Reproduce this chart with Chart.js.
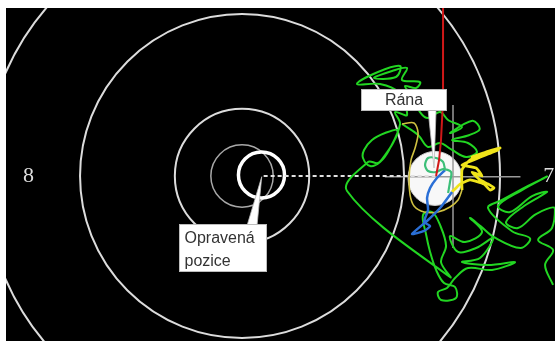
<!DOCTYPE html>
<html lang="cs">
<head>
<meta charset="UTF-8">
<title>Stopa míření</title>
<script src="https://cdn.jsdelivr.net/npm/chart.js"></script>
<style>
  body { margin: 0; background: #fff; }
  #wrap { width: 555px; height: 341px; }
</style>
</head>
<body>
<div id="wrap"><canvas id="trace" width="555" height="341"></canvas></div>
<script>
// target geometry in mm, origin = target centre
const ringRadii = [21.5, 13.5, 5.6];
const innerTenRadius = 2.6;
const ringLabels = [
  { text: '8', x: -18.25, y: 0 },
  { text: '7', x: 25.1, y: 0 }
];
const shot = { x: 16.08, y: -0.2, r: 2.25 };
const corrected = { x: 1.62, y: 0.08, r: 1.92 };

// aiming trace, split by colour
const greenX = [25.92, 25.25, 25.92, 24.67, 25.83, 26.08, 24.5, 23.0, 22.0, 23.5, 25.42, 24.17, 22.33, 21.33, 23.33, 25.4, 24.9, 23.83, 21.67, 20.5,
  22.5, 24.0, 23.2, 21.0, 19.9,
  19.0, 20.0, 18.58, 17.33, 18.0, 19.5, 20.92, 19.83, 18.33, 20.5, 22.75, 20.83, 18.83, 17.75, 17.08, 16.33, 16.58, 17.83, 17.75, 16.83, 16.17, 15.67, 15.33, 15.08, 15.83, 16.5, 17.0, 16.58, 17.33,
  8.75, 10.5, 11.33, 11.92, 12.58, 13.0, 11.92, 10.83, 10.17, 10.08, 10.67, 11.5, 12.25, 13.17, 12.75, 13.75,
  13.0, 11.5, 9.58, 11.33, 13.17, 12.83, 11.0, 12.5, 13.75, 13.33, 14.83, 14.5, 13.58, 14.17, 14.83, 15.5, 16.5, 17.17, 18.33, 17.33,
  19.2, 19.8, 18.9, 17.5, 18.83, 19.58, 18.67, 17.5, 16.5, 15.5, 14.67, 13.33];
const greenY = [-9.08, -7.42, -6.17, -5.33, -4.33, -2.67, -3.17, -4.33, -3.83, -2.5, -1.33, -1.67, -3.0, -2.5, -1.17, -0.05, -0.3, -0.83, -2.0, -2.67,
  -4.6, -5.2, -6.0, -5.1, -4.2,
  -3.5, -4.67, -5.5, -5.0, -6.33, -6.0, -5.17, -6.83, -7.17, -7.42, -7.17, -7.83, -7.67, -8.5, -9.33, -9.67, -10.33, -10.17, -9.25, -8.92, -7.83, -6.33, -4.83, -3.25, -3.0, -4.08, -5.83, -7.17, -8.42,
  -1.25, 1.17, 1.08, 1.75, 2.75, 3.83, 3.58, 3.0, 2.17, 1.5, 0.83, 1.17, 2.17, 4.33, 5.33, 5.08,
  7.0, 7.67, 7.67, 8.67, 9.17, 8.25, 8.17, 8.75, 9.0, 8.0, 7.83, 7.33, 7.5, 6.67, 5.33, 4.83, 5.33, 4.67, 4.08, 3.58,
  4.6, 3.9, 3.4, 3.0, 2.75, 2.0, 1.58, 2.17, 2.75, 2.42, 3.42, 4.33];

// last second before the shot: pale arc, then bright zigzag
const yellowDimX = [13.33, 14.33, 14.67, 14.42, 14.08, 13.92, 14.0, 14.33, 15.17, 16.33, 17.33, 18.0, 18.33];
const yellowDimY = [4.33, 4.42, 3.58, 2.33, 1.33, -0.17, -1.58, -2.5, -3.0, -3.0, -2.58, -2.0, -1.17];
const yellowX = [18.33, 18.33, 19.0, 21.5, 20.33, 19.17, 21.33, 19.67,
  18.33, 19.5, 20.0, 19.17, 19.83, 20.5, 21.0, 20.67, 20.17, 19.0, 18.17, 17.5];
const yellowY = [-1.17, 0.5, 1.33, 2.33, 2.0, 1.58, 2.17, 1.5,
  0.92, 0.67, 0, 0.33, -0.33, -0.67, -1.0, -1.17, -0.67, -0.33, -0.67, -1.33];

const blueX = [17.5, 16.5, 15.5, 14.17, 15.17, 15.67, 15.17, 15.5, 15.42, 15.67, 16.17, 16.92];
const blueY = [-1.33, -2.67, -3.67, -4.83, -4.58, -4.17, -3.83, -2.83, -1.83, -1.0, -0.25, 0.5];

const tealX = [16.92, 16.75, 16.17, 15.5, 15.25, 15.5, 16.17, 16.75, 17.42, 17.33, 17.17];
const tealY = [0.5, 1.17, 1.5, 1.5, 0.92, 0.42, 0.33, 0.58, 0.33, -0.5, -1.42];

// after-shot movement
const redX = [16.17, 16.42, 16.58, 16.75, 16.75];
const redY = [0, 1.33, 3.0, 6.33, 14.67];

// aiming mark and shift line
const crossX = { from: 11.9, to: 23.2, y: -0.06 };
const crossY = { x: 17.58, from: 5.92, to: -6.0 };
const shiftLine = { from: 1.8, to: 16.1, y: 0 };

const callouts = [
  { lines: ['Rána'], box: [9.92, 7.25, 17.0, 5.5], base: [15.5, 16.17], tip: [16.0, 0.67], align: 'center' },
  { lines: ['Opravená', 'pozice'], box: [-5.25, -4.0, 2.0, -7.92], base: [0.42, 1.25], tip: [1.64, -0.06], align: 'left' }
];

function pts(xs, ys) {
  return xs.map((x, i) => ({ x: x, y: ys[i] }));
}

function line(data, color, width, extra) {
  return Object.assign({
    data: data, showLine: true, pointRadius: 0, borderColor: color,
    borderWidth: width, fill: false, tension: 0
  }, extra || {});
}

// black face, rings, holes
const targetPlugin = {
  id: 'target',
  beforeDatasetsDraw(chart) {
    const { ctx, chartArea: a, scales: { x, y } } = chart;
    const px = v => x.getPixelForValue(v);
    const py = v => y.getPixelForValue(v);
    const r = v => px(v) - px(0);
    ctx.save();
    ctx.fillStyle = '#000';
    ctx.fillRect(a.left, a.top, a.right - a.left, a.bottom - a.top);
    ctx.beginPath();
    ctx.rect(a.left, a.top, a.right - a.left, a.bottom - a.top);
    ctx.clip();

    ctx.strokeStyle = '#dcdcdc';
    ctx.lineWidth = 2;
    ringRadii.forEach(rr => {
      ctx.beginPath();
      ctx.arc(px(0), py(0), r(rr), 0, Math.PI * 2);
      ctx.stroke();
    });
    ctx.strokeStyle = '#a8a8a8';
    ctx.lineWidth = 1.5;
    ctx.beginPath();
    ctx.arc(px(0), py(0), r(innerTenRadius), 0, Math.PI * 2);
    ctx.stroke();

    ctx.strokeStyle = '#fff';
    ctx.lineWidth = 3.5;
    ctx.beginPath();
    ctx.arc(px(corrected.x), py(corrected.y), r(corrected.r), 0, Math.PI * 2);
    ctx.stroke();

    ctx.fillStyle = '#f8f8f8';
    ctx.strokeStyle = '#d0d0d0';
    ctx.lineWidth = 1;
    ctx.beginPath();
    ctx.arc(px(shot.x), py(shot.y), r(shot.r), 0, Math.PI * 2);
    ctx.fill();
    ctx.stroke();

    ctx.fillStyle = '#dedede';
    ctx.font = '22px "Liberation Serif", "DejaVu Serif", serif';
    ctx.textBaseline = 'middle';
    ctx.textAlign = 'left';
    ringLabels.forEach(l => {
      ctx.fillText(l.text, px(l.x), py(l.y));
    });
    ctx.restore();
  },
  afterDatasetsDraw(chart) {
    const { ctx, scales: { x, y } } = chart;
    const px = v => x.getPixelForValue(v);
    const py = v => y.getPixelForValue(v);
    ctx.save();
    callouts.forEach(c => {
      const [x0, y0, x1, y1] = c.box;
      const L = Math.round(px(x0)) + 0.5, T = Math.round(py(y0)) + 0.5;
      const R = Math.round(px(x1)) + 0.5, B = Math.round(py(y1)) + 0.5;
      // pointer wedge
      const baseY = c.tip[1] < y1 ? B - 1 : T + 1;
      ctx.fillStyle = '#fff';
      ctx.beginPath();
      ctx.moveTo(px(c.base[0]), baseY);
      ctx.lineTo(px(c.tip[0]), py(c.tip[1]));
      ctx.lineTo(px(c.base[1]), baseY);
      ctx.closePath();
      ctx.fill();
      ctx.strokeStyle = '#bdbdbd';
      ctx.lineWidth = 0.8;
      ctx.stroke();
      // box
      ctx.fillStyle = '#fff';
      ctx.fillRect(L, T, R - L, B - T);
      ctx.strokeStyle = '#bdbdbd';
      ctx.lineWidth = 1;
      ctx.strokeRect(L, T, R - L, B - T);
      ctx.fillStyle = '#333';
      ctx.font = '16px "Liberation Sans", Arial, sans-serif';
      ctx.textBaseline = 'middle';
      const lh = (B - T) / c.lines.length;
      c.lines.forEach((t, i) => {
        if (c.align === 'center') {
          ctx.textAlign = 'center';
          ctx.fillText(t, (L + R) / 2, T + lh * (i + 0.5) + 1);
        } else {
          ctx.textAlign = 'left';
          ctx.fillText(t, L + 5, T + lh * (i + 0.5) + 2);
        }
      });
    });
    ctx.restore();
  }
};

const ctx = document.getElementById('trace').getContext('2d');
new Chart(ctx, {
  type: 'scatter',
  data: {
    datasets: [
      line(pts(redX, redY), '#d01818', 2),
      line(pts(tealX, tealY), '#3cbf78', 2.2, { tension: 0.3 }),
      line(pts(blueX, blueY), '#2a6fd6', 2.5, { tension: 0.2 }),
      line(pts(yellowX, yellowY), '#f0e41a', 2.8, { tension: 0.15 }),
      line(pts(yellowDimX, yellowDimY), '#cfc040', 1.6, { tension: 0.3 }),
      line(pts(greenX, greenY), '#22d622', 2, { tension: 0.35 }),
      line([{ x: shiftLine.from, y: shiftLine.y }, { x: shiftLine.to, y: shiftLine.y }], '#e0e0e0', 1.8, { borderDash: [4, 3] }),
      line([{ x: crossX.from, y: crossX.y }, { x: crossX.to, y: crossX.y }], '#9a9a9a', 1.5),
      line([{ x: crossY.x, y: crossY.from }, { x: crossY.x, y: crossY.to }], '#9a9a9a', 1.5)
    ]
  },
  options: {
    responsive: false,
    animation: false,
    layout: { padding: { left: 6, top: 8, right: 0, bottom: 0 } },
    plugins: { legend: { display: false }, tooltip: { enabled: false } },
    scales: {
      x: { type: 'linear', min: -19.67, max: 26.08, display: false },
      y: { type: 'linear', min: -13.75, max: 14, display: false }
    }
  },
  plugins: [targetPlugin]
});
</script>
</body>
</html>
